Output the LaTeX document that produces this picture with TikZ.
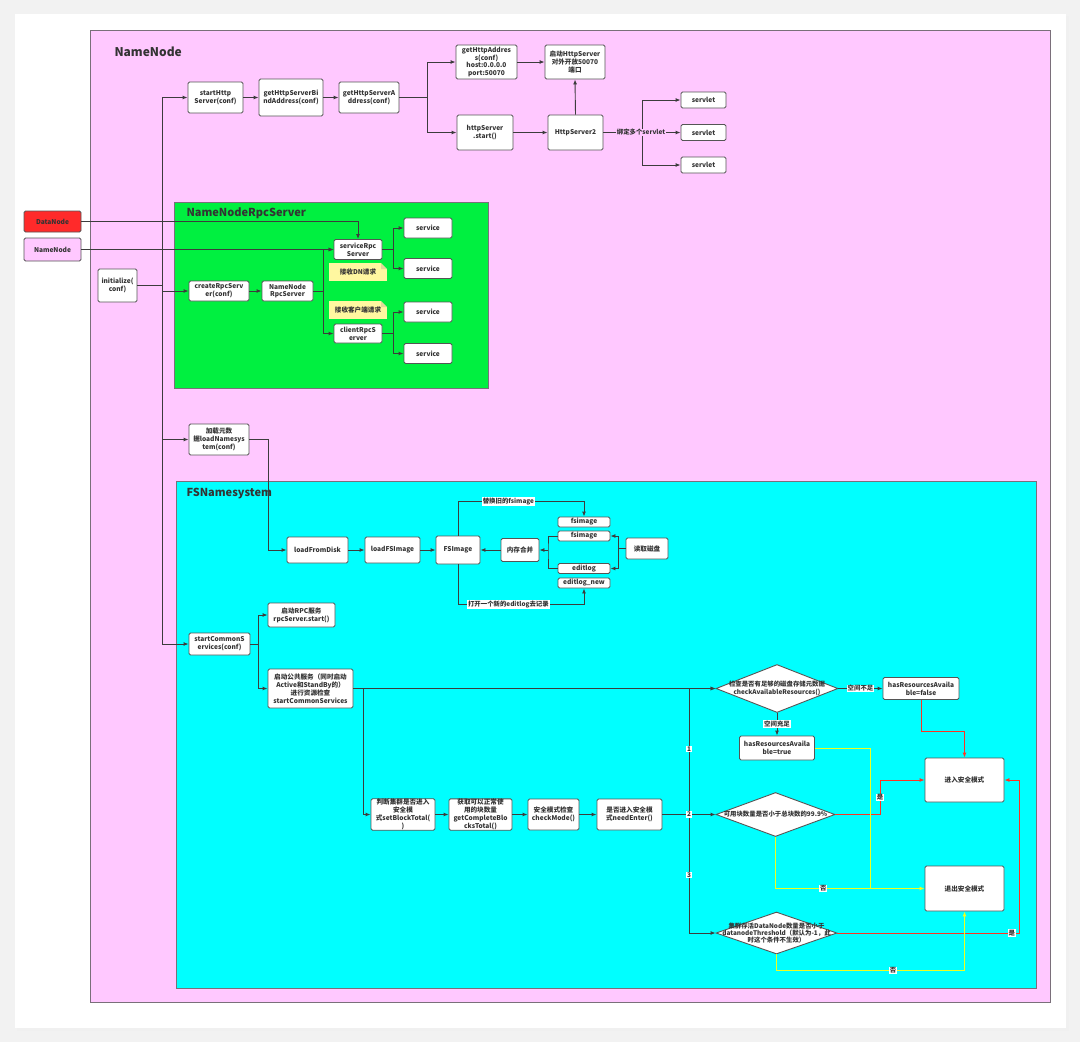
\documentclass[tikz,border=0pt]{standalone}
\usepackage{fontspec}
\setmainfont{Noto Sans CJK SC}
\usetikzlibrary{arrows.meta,shapes.geometric}
\definecolor{pagebg}{HTML}{F2F2F2}
\definecolor{pinkbg}{HTML}{FFC8FF}
\definecolor{greenbg}{HTML}{00F040}
\definecolor{cyanbg}{HTML}{00FFFF}
\definecolor{redbox}{HTML}{FF2A2A}
\definecolor{notebg}{HTML}{FFF7A0}
\definecolor{notefold}{HTML}{E2DA9A}
\definecolor{lineclr}{HTML}{3C3C3C}
\definecolor{boxline}{HTML}{555555}
\definecolor{frame}{HTML}{7A6F7A}
\definecolor{txt}{HTML}{333333}
\definecolor{yline}{HTML}{F0FF20}
\definecolor{rline}{HTML}{FF3322}
\newcommand\boxfont{\fontsize{6.6}{7.8}\selectfont\bfseries}
\newcommand\lblfont{\fontsize{6.4}{7.4}\selectfont\bfseries}
\tikzset{
  ln/.style={draw=lineclr, line width=0.9pt},
  arr/.style={ln, -{Latex[length=5pt,width=4pt]}},
  rarr/.style={draw=rline, line width=0.9pt, -{Latex[length=5pt,width=4pt]}},
  yln/.style={draw=yline, line width=0.9pt},
  yarr/.style={yln, -{Latex[length=5pt,width=4pt]}},
  box/.style={draw=boxline, fill=white, rounded corners=1.5pt, line width=0.9pt,
    inner sep=0.5pt, align=center, font=\boxfont, text=txt},
  sz/.style 2 args={minimum width=#1pt, minimum height=#2pt},
  lbl/.style={fill=white, inner sep=0.8pt, font=\lblfont, text=txt},
  dia/.style={diamond, draw=boxline, fill=white, line width=0.9pt, inner sep=0pt},
  note/.style={fill=notebg, inner sep=0.5pt, font=\boxfont, text=txt,
    path picture={
      \fill[greenbg] ([xshift=-6pt]path picture bounding box.north east) -- (path picture bounding box.north east) -- ([yshift=-6pt]path picture bounding box.north east) -- cycle;
      \fill[notefold] ([xshift=-6pt]path picture bounding box.north east) -- ([xshift=-6pt,yshift=-6pt]path picture bounding box.north east) -- ([yshift=-6pt]path picture bounding box.north east) -- cycle;}},
  title/.style={anchor=west, font=\fontsize{11}{13}\selectfont\bfseries, text=txt}
}
\begin{document}
\begin{tikzpicture}[x=1pt,y=-1pt]
\useasboundingbox (0,0) rectangle (1080,1042);
\fill[pagebg] (0,0) rectangle (1080,1042);
\fill[black!6] (17,16) rectangle (1069,1031);
\fill[white] (15,14) rectangle (1066,1028);
% containers
\filldraw[fill=pinkbg, draw=frame, line width=0.9pt] (90,30) rectangle (1050,1002);
\filldraw[fill=greenbg, draw=frame, line width=0.9pt] (174,202) rectangle (488,388);
\filldraw[fill=cyanbg, draw=frame, line width=0.9pt] (176,481) rectangle (1036,988);
\node[title, font=\fontsize{12}{14}\selectfont\bfseries] (tnn) at (111,52) {NameNode};
\node[title] (trpc) at (183,213) {NameNodeRpcServer};
\node[title] (tfs) at (183,494) {FSNamesystem};

% top http row
\node[box, sz={55}{31}] (sh) at (215.5,97.5) {startHttp\\Server(conf)};
\node[box, sz={64}{37}] (gb) at (291,97.5) {getHttpServerBi\\ndAddress(conf)};
\node[box, sz={60}{31}] (ga) at (369,97.5) {getHttpServerA\\ddress(conf)};
\node[box, sz={61}{34}] (gha) at (486.5,62) {getHttpAddres\\s(conf)\\host:0.0.0.0\\port:50070};
\node[box, sz={60}{34}] (hs) at (575,62) {启动HttpServer\\对外开放50070\\端口};
\node[box, sz={56}{35}] (hst) at (485,132.5) {httpServer\\.start()};
\node[box, sz={55}{35}] (hs2) at (575.5,132.5) {HttpServer2};
\node[box, sz={45}{16}] (sv1) at (703.5,100) {servlet};
\node[box, sz={45}{16}] (sv2) at (703.5,132.5) {servlet};
\node[box, sz={45}{16}] (sv3) at (703.5,165) {servlet};

% left inputs
\node[box, fill=redbox, sz={57}{21}] (dn) at (52.5,221.5) {DataNode};
\node[box, fill=pinkbg, sz={57}{23}] (nn) at (52.5,249.5) {NameNode};
\node[box, sz={39}{33}] (init) at (117.5,285.5) {initialize(\\conf)};

% rpc
\node[box, sz={60}{20}] (crs) at (219,291) {createRpcServ\\er(conf)};
\node[box, sz={51}{20}] (nrs) at (287.5,291) {NameNode\\RpcServer};
\node[box, sz={48}{20}] (srs) at (358,249.5) {serviceRpc\\Server};
\node[box, sz={48}{19}] (cl) at (358,333.5) {clientRpcS\\erver};
\node[box, sz={48}{20}] (s1) at (428,228) {service};
\node[box, sz={48}{20}] (s2) at (428,268.5) {service};
\node[box, sz={48}{20}] (s3) at (428,312) {service};
\node[box, sz={48}{20}] (s4) at (428,353.5) {service};
\node[note, sz={58}{18}] (n1) at (358,272) {接收DN请求};
\node[note, sz={58}{18}] (n2) at (358,310) {接收客户端请求};

% load namesystem
\node[box, sz={60}{31}] (lm) at (219,439.5) {加载元数\\据loadNamesys\\tem(conf)};
\node[box, sz={61}{26}] (lfd) at (317.5,550) {loadFromDisk};
\node[box, sz={55}{26}] (lfi) at (392.5,550) {loadFSImage};
\node[box, sz={44}{28}] (fsi) at (458,550) {FSImage};
\node[box, sz={38}{23}] (mm) at (520,550) {内存合并};
\node[box, sz={52}{10}] (f1) at (584,522) {fsimage};
\node[box, sz={52}{10}] (f2) at (584,536) {fsimage};
\node[box, sz={52}{10}] (el) at (584,568.5) {editlog};
\node[box, sz={52}{10}] (eln) at (584,583) {editlog\_new};
\node[box, sz={42}{21}] (rd) at (647,548.5) {读取磁盘};

% common services
\node[box, sz={61}{22}] (scs) at (219.5,644) {startCommonS\\ervices(conf)};
\node[box, sz={67}{24}] (rpc) at (301.5,615) {启动RPC服务\\rpcServer.start()};
\node[box, sz={85}{39}] (pub) at (310.5,688.5) {启动公共服务（同时启动\\Active和StandBy的）\\进行资源检查\\startCommonServices};
\node[box, sz={64}{31}] (js) at (403,814.5) {判断集群是否进入\\安全模\\式setBlockTotal(\\)};
\node[box, sz={63}{31}] (gc) at (480.5,814.5) {获取可以正常使\\用的块数量\\getCompleteBlo\\cksTotal()};
\node[box, sz={51}{31}] (cm) at (553.5,814.5) {安全模式检查\\checkMode()};
\node[box, sz={65}{31}] (ne) at (629.5,814.5) {是否进入安全模\\式needEnter()};

% decisions
\node[dia, minimum width=122pt, minimum height=48pt,
  label={[align=center, font=\lblfont, text=txt]center:{检查是否有足够的磁盘存储元数据\\checkAvailableResources()}}] (d1) at (777,688.5) {};
\node[box, sz={76}{22}] (hf) at (921,688.5) {hasResourcesAvaila\\ble=false};
\node[box, sz={75}{24}] (ht) at (777,748) {hasResourcesAvaila\\ble=true};
\node[box, sz={79}{44}] (enter) at (964.5,780) {进入安全模式};
\node[box, sz={79}{45}] (exitm) at (964.5,888.5) {退出安全模式};
\node[dia, minimum width=119pt, minimum height=44pt,
  label={[align=center, font=\lblfont, text=txt]center:{可用块数量是否小于总块数的99.9\%}}] (d2) at (775.5,814.5) {};
\node[dia, minimum width=121pt, minimum height=42pt,
  label={[align=center, font=\lblfont, text=txt]center:{集群存活DataNode数量是否小于\\datanodeThreshold（默认为-1，此\\时这个条件不生效）}}] (d3) at (776.5,933) {};

% ---- connectors ----
% trunk
\coordinate (t0) at (162,97.5);
\coordinate (t1) at (162,644);
\draw[ln] (t0) -- (t1);
\draw[arr] (t0) -- (sh.west);
\draw[ln] (init.east) -- (init.east -| t0);
\draw[arr] (t0 |- crs.west) -- (crs.west);
\draw[arr] (t0 |- lm.west) -- (lm.west);
\draw[arr] (t1) -- (scs.west);

% http
\draw[arr] (sh.east) -- (gb.west);
\draw[arr] (gb.east) -- (ga.west);
\coordinate (bga) at (427,97.5);
\draw[ln] (ga.east) -- (bga);
\draw[arr] (bga) |- (gha.west);
\draw[arr] (bga) |- (hst.west);
\draw[arr] (gha.east) -- (hs.west);
\draw[arr] (hst.east) -- (hs2.west);
\draw[arr] (hs2.north) -- (hs.south);
\coordinate (bhs) at (642,132.5);
\draw[ln] (hs2.east) -- (bhs);
\draw[arr] (bhs) |- (sv1.west);
\draw[arr] (bhs) -- (sv2.west);
\draw[arr] (bhs) |- (sv3.west);
\node[lbl, fill=pinkbg] (lb1) at (641,132.5) {绑定多个servlet};

% rpc
\draw[arr] (crs.east) -- (nrs.west);
\coordinate (bn) at (323,291);
\draw[ln] (nrs.east) -- (bn);
\draw[arr] (bn) |- (srs.west);
\draw[arr] (bn) |- (cl.west);
\draw[arr] (nn.east) -- (srs.west);
\draw[arr] (dn.east) -| (srs.north);
\coordinate (bs) at (393,249.5);
\draw[ln] (srs.east) -- (bs);
\draw[arr] (bs) |- (s1.west);
\draw[arr] (bs) |- (s2.west);
\coordinate (bc) at (393,333.5);
\draw[ln] (cl.east) -- (bc);
\draw[arr] (bc) |- (s3.west);
\draw[arr] (bc) |- (s4.west);

% fsimage
\draw[arr] (lm.east) -- ++(19,0) |- (lfd.west);
\draw[arr] (lfd.east) -- (lfi.west);
\draw[arr] (lfi.east) -- (fsi.west);
\draw[arr] (mm.west) -- (fsi.east);
\coordinate (bm) at (548,550);
\draw[ln] (f2.west) -| (bm) |- (el.west);
\draw[arr] (bm) -- (mm.east);
\coordinate (br) at (618,548.5);
\draw[ln] (rd.west) -- (br);
\draw[arr] (br) |- (f2.east);
\draw[arr] (br) |- (el.east);
\draw[arr] (fsi.north) -- ++(0,-34) -| node[lbl, pos=0.2] {替换旧的fsimage} (f1.north);
\draw[arr] (fsi.south) -- ++(0,40) -| node[lbl, pos=0.2] {打开一个新的editlog去记录} (eln.south);

% common services
\coordinate (bsc) at (258,644);
\draw[ln] (scs.east) -- (bsc);
\draw[arr] (bsc) |- (rpc.west);
\draw[arr] (bsc) |- (pub.west);
\draw[arr] (pub.east) -- (d1.west);
\draw[arr] (pub.east) -- ++(10,0) |- (js.west);
\draw[arr] (js.east) -- (gc.west);
\draw[arr] (gc.east) -- (cm.west);
\draw[arr] (cm.east) -- (ne.west);
\coordinate (bus) at (689,814.5);
\draw[ln] (ne.east) -- (bus);
\draw[arr] (bus) |- node[lbl, pos=0.26] {1} (d1.west);
\draw[arr] (bus) -- (d2.west);
\draw[arr] (bus) |- node[lbl, pos=0.255] {3} (d3.west);
\node[lbl] (l2) at (bus) {2};

% decision flows
\draw[arr] (d1.east) -- node[lbl] {空间不足} (hf.west);
\draw[arr] (d1.south) -- node[lbl] {空间充足} (ht.north);
\draw[rarr] (hf.south) -- ++(0,31) -| (enter.north);
\coordinate (c2) at (880,814.5);
\draw[rarr] (d2.east) -- (c2) |- node[lbl, pos=0.25] {是} (enter.west);
\coordinate (c3) at (1019,933);
\draw[rarr] (d3.east) -- node[lbl, pos=0.96] {是} (c3) |- (enter.east);
\coordinate (c4) at (870,888.5);
\draw[yln] (ht.east) -| (c4);
\draw[yarr] (d2.south) |- node[lbl, pos=0.66] {否} (exitm.west);
\draw[yarr] (d3.south) -- ++(0,16) -| node[lbl, pos=0.31] {否} (exitm.south);
\end{tikzpicture}
\end{document}
